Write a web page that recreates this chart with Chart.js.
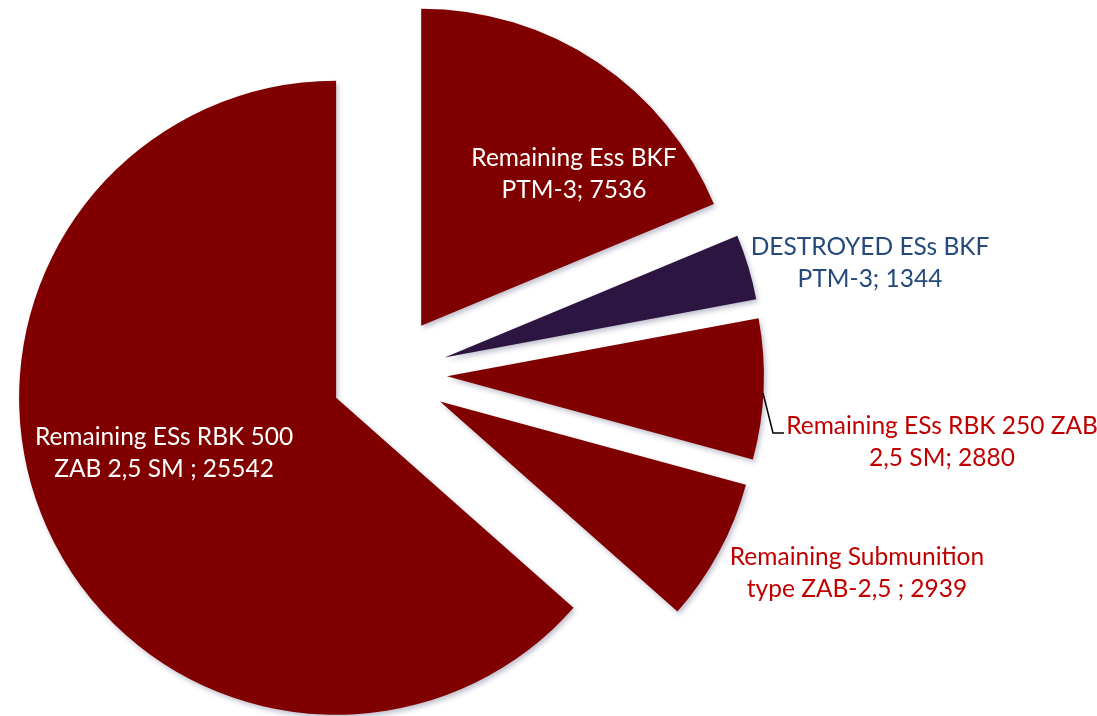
<!DOCTYPE html>
<html>
<head>
<meta charset="utf-8">
<script src="https://cdn.jsdelivr.net/npm/chart.js@4"></script>
<style>
  html, body { margin: 0; padding: 0; background: #ffffff; }
  #wrap { position: relative; width: 1097px; height: 716px; }
</style>
</head>
<body>
<div id="wrap"><canvas id="chart"></canvas></div>
<script>
// data
const categories = [
    'Remaining Ess BKF PTM-3',
    'DESTROYED ESs BKF PTM-3',
    'Remaining ESs RBK 250 ZAB 2,5 SM',
    'Remaining Submunition type ZAB-2,5',
    'Remaining ESs RBK 500 ZAB 2,5 SM'
];
const values = [7536, 1344, 2880, 2939, 25542];

// label text (second line gets the value appended)
const labelFirst = ['Remaining Ess BKF', 'DESTROYED ESs BKF', 'Remaining ESs RBK 250 ZAB', 'Remaining Submunition', 'Remaining ESs RBK 500'];
const labelSecond = ['PTM-3; ', 'PTM-3; ', '2,5 SM; ', 'type ZAB-2,5 ; ', 'ZAB 2,5 SM ; '];

// styles
const sliceColors = ['#800000', '#2c1540', '#800000', '#800000', '#800000'];
const labelColors = ['#ffffff', '#24497a', '#c00000', '#c00000', '#ffffff'];
const labelCenters = [[574, 158], [870, 247], [942, 426], [857, 557], [164, 437]];
const LINE_GAP = 32;
const EXPLODE = 58;
const RADIUS = 317;
const FONT = '24.5px Lato';

// push every slice out along its middle angle
const explodePlugin = {
    id: 'explode',
    afterDatasetsUpdate: function(chart) {
        chart.getDatasetMeta(0).data.forEach(function(arc) {
            const mid = (arc.startAngle + arc.endAngle) / 2;
            arc.x += Math.cos(mid) * EXPLODE;
            arc.y += Math.sin(mid) * EXPLODE;
        });
    }
};

// soft shadow under the slices, then the labels
const labelPlugin = {
    id: 'sliceLabels',
    beforeDatasetsDraw: function(chart) {
        const ctx = chart.ctx;
        ctx.save();
        ctx.shadowColor = 'rgba(50, 50, 100, 0.3)';
        ctx.shadowBlur = 5;
        ctx.shadowOffsetX = 2;
        ctx.shadowOffsetY = 3;
    },
    afterDatasetsDraw: function(chart) {
        const ctx = chart.ctx;
        ctx.restore();
        ctx.save();
        ctx.font = FONT;
        ctx.textAlign = 'center';
        ctx.textBaseline = 'middle';
        values.forEach(function(v, i) {
            const pos = labelCenters[i];
            ctx.fillStyle = labelColors[i];
            ctx.fillText(labelFirst[i], pos[0], pos[1]);
            ctx.fillText(labelSecond[i] + v, pos[0], pos[1] + LINE_GAP);
        });

        // leader line for the RBK 250 label
        ctx.strokeStyle = '#000000';
        ctx.lineWidth = 1.5;
        ctx.beginPath();
        ctx.moveTo(763, 393);
        ctx.lineTo(773, 433);
        ctx.lineTo(784, 433);
        ctx.stroke();
        ctx.restore();
    }
};

// render
new Chart(document.getElementById('chart'), {
    type: 'pie',
    data: {
        labels: categories,
        datasets: [{
            data: values,
            backgroundColor: sliceColors,
            borderWidth: 0,
            radius: RADIUS,
            clip: false
        }]
    },
    options: {
        responsive: true,
        maintainAspectRatio: false,
        animation: false,
        events: [],
        layout: { padding: { left: 0, right: 319, top: 32, bottom: 0 } },
        plugins: {
            legend: { display: false },
            tooltip: { enabled: false }
        }
    },
    plugins: [explodePlugin, labelPlugin]
});
</script>
</body>
</html>
